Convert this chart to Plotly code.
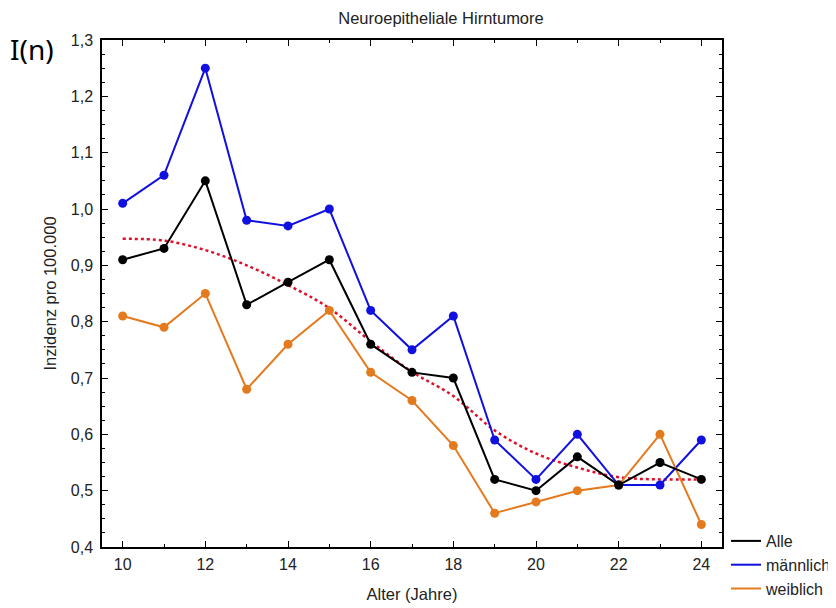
import plotly.graph_objects as go

alter = [10, 11, 12, 13, 14, 15, 16, 17, 18, 19, 20, 21, 22, 23, 24]
alle = [0.91, 0.93, 1.05, 0.83, 0.87, 0.91, 0.76, 0.71, 0.70, 0.52, 0.50, 0.56, 0.51, 0.55, 0.52]
maennlich = [1.01, 1.06, 1.25, 0.98, 0.97, 1.00, 0.82, 0.75, 0.81, 0.59, 0.52, 0.60, 0.51, 0.51, 0.59]
weiblich = [0.81, 0.79, 0.85, 0.68, 0.76, 0.82, 0.71, 0.66, 0.58, 0.46, 0.48, 0.50, 0.51, 0.60, 0.44]
trend = [0.947, 0.944, 0.927, 0.900, 0.865, 0.824, 0.765, 0.711, 0.668, 0.607, 0.566, 0.541, 0.524, 0.520, 0.520]

FONT = "Liberation Sans, Arial, sans-serif"
# page body has an 8px margin -> compensate
OFF = 8
L, R, T, B = 102 - OFF, 114 + OFF, 40 - OFF, 61 + OFF
PW, PH = 836 - L - R, 608 - T - B

fig = go.Figure()
fig.add_trace(go.Scatter(x=alter, y=trend, mode="lines", name="Trend", showlegend=False,
                         line=dict(color="#e0102a", width=2.5, dash="dot", shape="spline")))
fig.add_trace(go.Scatter(x=alter, y=maennlich, mode="lines+markers", name="männlich", showlegend=False,
                         line=dict(color="#1010e0", width=2), marker=dict(size=9, color="#1010e0")))
fig.add_trace(go.Scatter(x=alter, y=weiblich, mode="lines+markers", name="weiblich", showlegend=False,
                         line=dict(color="#e47a1e", width=2), marker=dict(size=9, color="#e47a1e")))
fig.add_trace(go.Scatter(x=alter, y=alle, mode="lines+markers", name="Alle", showlegend=False,
                         line=dict(color="black", width=2), marker=dict(size=9, color="black")))

for name, col in [("Alle", "black"), ("männlich", "#1010e0"), ("weiblich", "#e47a1e")]:
    fig.add_trace(go.Scatter(x=[None], y=[None], mode="lines", name=name,
                             line=dict(color=col, width=2)))

fig.update_layout(
    width=836, height=608,
    margin=dict(l=L, r=R, t=T, b=B, autoexpand=False),
    paper_bgcolor="white", plot_bgcolor="white",
    separators=", ",
    font=dict(family=FONT, size=16, color="#222"),
    title=dict(text="Neuroepitheliale Hirntumore", x=(441 - OFF) / 836, xanchor="center",
               y=1 - (18 - OFF) / 608, yanchor="middle", font=dict(size=16.5, family=FONT, color="#222")),
    legend=dict(x=(726 - 102) / PW, xanchor="left", y=(547 - 524) / PH, yanchor="top",
                bgcolor="rgba(0,0,0,0)", font=dict(size=16, family=FONT, color="#222"),
                itemwidth=30, tracegroupgap=0),
    xaxis=dict(range=[9.5, 24.5], tickmode="array", tickvals=[10, 12, 14, 16, 18, 20, 22, 24],
               ticks="inside", ticklen=6, tickcolor="black", showgrid=False, zeroline=False,
               showline=True, linecolor="black", linewidth=1.5, mirror="allticks",
               minor=dict(tickvals=[11, 13, 15, 17, 19, 21, 23], ticks="inside", ticklen=3,
                          tickcolor="black", showgrid=False),
               title=dict(text="Alter (Jahre)", standoff=16, font=dict(size=16.5)),
               tickfont=dict(size=16), ticklabelstandoff=2),
    yaxis=dict(range=[0.4, 1.3], tickmode="linear", tick0=0.4, dtick=0.1, tickformat=".1f",
               ticks="inside", ticklen=6, tickcolor="black", showgrid=False, zeroline=False,
               showline=True, linecolor="black", linewidth=1.5, mirror="allticks",
               minor=dict(dtick=0.025, ticks="inside", ticklen=3, tickcolor="black", showgrid=False),
               title=dict(text="Inzidenz pro 100.000", standoff=10, font=dict(size=16.5)),
               tickfont=dict(size=16), ticklabelstandoff=4),
)

fig.add_annotation(text="I(n)", xref="paper", yref="paper", x=(8 - 102) / PW, y=1 + (40 - 28) / PH,
                   xanchor="left", yanchor="top", showarrow=False,
                   font=dict(family="Noto Sans, sans-serif", size=28, color="black"))

fig.write_html("out.html")
